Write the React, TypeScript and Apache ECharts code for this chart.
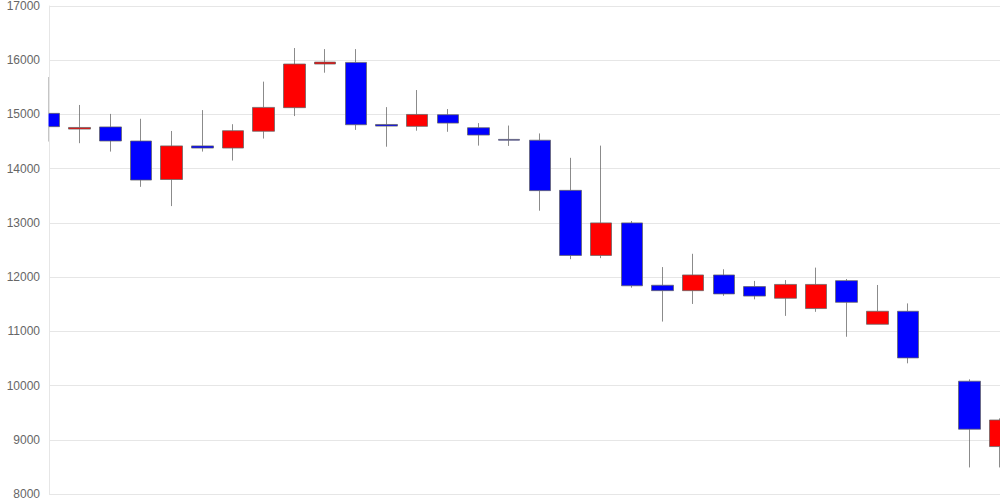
import React, { useEffect, useRef } from "react";
import * as echarts from "echarts";

const categories = [
  "1", "2", "3", "4", "5", "6", "7", "8", "9", "10", "11", "12", "13", "14", "15", "16",
  "17", "18", "19", "20", "21", "22", "23", "24", "25", "26", "27", "28", "29", "30", "31", "32",
];
const opens: (number | null)[] = [
  15020, 14730, 14770, 14510, 13800, 14420, 14380, 14690, 15125, 15930, 15960, 14815, 14780, 14995, 14755, 14540,
  14525, 13600, 12400, 13000, 11850, 11750, 12040, 11825, 11610, 11420, 11935, 11130, 11370, null, 10080, 8875,
];
const closes: (number | null)[] = [
  14775, 14760, 14510, 13790, 14420, 14380, 14700, 15130, 15930, 15965, 14810, 14785, 15000, 14840, 14620, 14525,
  13595, 12400, 13000, 11840, 11750, 12040, 11690, 11650, 11865, 11865, 11535, 11370, 10510, null, 9195, 9365,
];
const lows: (number | null)[] = [
  14500, 14470, 14315, 13665, 13310, 14315, 14150, 14555, 14970, 15770, 14715, 14405, 14700, 14680, 14425, 14420,
  13225, 12330, 12350, 11805, 11180, 11505, 11655, 11590, 11285, 11360, 10900, 11130, 10410, null, 8490, 8490,
];
const highs: (number | null)[] = [
  15690, 15175, 15010, 14920, 14695, 15080, 14820, 15605, 16225, 16205, 16205, 15135, 15450, 15100, 14840, 14795,
  14650, 14200, 14425, 13035, 12185, 12430, 12145, 11930, 11945, 12175, 11965, 11855, 11515, null, 10115, 9395,
];
const yMin = 8000;
const yMax = 17000;
const yStep = 1000;

export default function App() {
  const ref = useRef<HTMLDivElement>(null);
  useEffect(() => {
    if (!ref.current) return;
    const chart = echarts.init(ref.current, null, { renderer: "svg" });
    const data = categories.map((_, i) =>
      opens[i] == null ? "-" : [opens[i], closes[i], lows[i], highs[i]]
    );
    chart.setOption({
      animation: false,
      backgroundColor: "#ffffff",
      grid: { left: 49, right: 0, top: 6, bottom: 6, containLabel: false },
      xAxis: {
        type: "category",
        data: categories,
        boundaryGap: false,
        axisLine: { show: false },
        axisTick: { show: false },
        axisLabel: { show: false },
        splitLine: { show: false },
      },
      yAxis: [
        {
          type: "value",
          min: yMin,
          max: yMax,
          interval: yStep,
          z: 0,
          axisLine: { show: true, lineStyle: { color: "#e6e6e6" } },
          axisTick: { show: false },
          axisLabel: { show: false },
          splitLine: { show: true, lineStyle: { color: "#e6e6e6" } },
        },
        {
          type: "value",
          position: "left",
          min: yMin,
          max: yMax,
          interval: yStep,
          z: 10,
          axisLine: { show: false },
          axisTick: { show: false },
          axisLabel: {
            color: "#666666",
            fontSize: 12,
            fontFamily: "Liberation Sans, Arial, sans-serif",
            margin: 9,
            formatter: (v: number) => String(v),
          },
          splitLine: { show: false },
        },
      ],
      graphic: [
        {
          type: "rect",
          z: 5,
          left: 0,
          top: 0,
          shape: { x: 0, y: 0, width: 48.5, height: 500 },
          style: { fill: "#ffffff" },
          silent: true,
        },
      ],
      series: [
        {
          type: "candlestick",
          data,
          yAxisIndex: 0,
          barWidth: 22,
          clip: true,
          z: 2,
          itemStyle: {
            color: "#ff0000",
            color0: "#0000ff",
            borderColor: "rgba(100,100,100,0.75)",
            borderColor0: "rgba(100,100,100,0.75)",
            borderWidth: 1,
          },
        },
      ],
    });
    return () => chart.dispose();
  }, []);
  return (
    <div
      ref={ref}
      style={{ position: "fixed", left: 0, top: 0, width: 1000, height: 500 }}
    />
  );
}
